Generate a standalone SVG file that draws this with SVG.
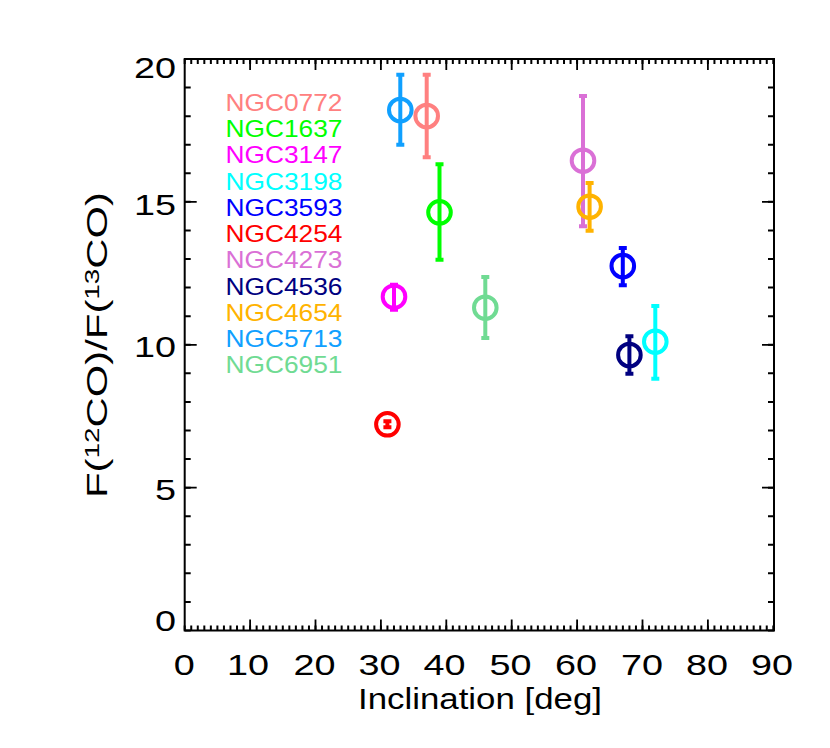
<svg xmlns="http://www.w3.org/2000/svg" width="830" height="748" viewBox="0 0 830 748">
<style>
.ax{fill:none;stroke:#000;stroke-width:2}
.tk{fill:none;stroke:#000;stroke-width:1.8}
.lbl{font-family:"Liberation Sans",Arial,Helvetica,sans-serif;font-size:30px;fill:#000}
.leg{font-family:"Liberation Sans",Arial,Helvetica,sans-serif;font-size:24.5px}
.pt circle{fill:none;stroke-width:4}
.pt path{fill:none;stroke-width:4}
</style>
<rect width="830" height="748" fill="#fff"/>
<g id="axes">
<rect class="ax" x="184.7" y="59" width="589.3" height="571.5"/>
<line x1="183.7" y1="628" x2="774" y2="628" stroke="#000" stroke-width="5" stroke-dasharray="2 4.54"/>
<line x1="183.7" y1="61.5" x2="774" y2="61.5" stroke="#000" stroke-width="5" stroke-dasharray="2 4.54"/>
<line x1="187.7" y1="631.5" x2="187.7" y2="58" stroke="#000" stroke-width="6" stroke-dasharray="2 26.575"/>
<line x1="771" y1="631.5" x2="771" y2="58" stroke="#000" stroke-width="6" stroke-dasharray="2 26.575"/>
<path class="tk" d="M250.1 630.5v-11M315.5 630.5v-11M380.9 630.5v-11M446.3 630.5v-11M511.7 630.5v-11M577.1 630.5v-11M642.5 630.5v-11M707.9 630.5v-11M250.1 59v11M315.5 59v11M380.9 59v11M446.3 59v11M511.7 59v11M577.1 59v11M642.5 59v11M707.9 59v11M184.7 487.6h12M184.7 344.8h12M184.7 201.9h12M774 487.6h-12M774 344.8h-12M774 201.9h-12"/>
</g>
<g id="tick-labels" class="lbl">
<text x="176" y="630.5" text-anchor="end" textLength="21" lengthAdjust="spacingAndGlyphs">0</text>
<text x="176" y="500" text-anchor="end" textLength="21" lengthAdjust="spacingAndGlyphs">5</text>
<text x="176" y="357" text-anchor="end" textLength="42" lengthAdjust="spacingAndGlyphs">10</text>
<text x="176" y="214.5" text-anchor="end" textLength="42" lengthAdjust="spacingAndGlyphs">15</text>
<text x="176" y="77.5" text-anchor="end" textLength="42" lengthAdjust="spacingAndGlyphs">20</text>
<text x="184.3" y="675" text-anchor="middle" textLength="21" lengthAdjust="spacingAndGlyphs">0</text>
<text x="248" y="675" text-anchor="middle" textLength="42" lengthAdjust="spacingAndGlyphs">10</text>
<text x="314.5" y="675" text-anchor="middle" textLength="42" lengthAdjust="spacingAndGlyphs">20</text>
<text x="379.5" y="675" text-anchor="middle" textLength="42" lengthAdjust="spacingAndGlyphs">30</text>
<text x="444.5" y="675" text-anchor="middle" textLength="42" lengthAdjust="spacingAndGlyphs">40</text>
<text x="510.5" y="675" text-anchor="middle" textLength="42" lengthAdjust="spacingAndGlyphs">50</text>
<text x="576" y="675" text-anchor="middle" textLength="42" lengthAdjust="spacingAndGlyphs">60</text>
<text x="642" y="675" text-anchor="middle" textLength="42" lengthAdjust="spacingAndGlyphs">70</text>
<text x="707" y="675" text-anchor="middle" textLength="42" lengthAdjust="spacingAndGlyphs">80</text>
<text x="772" y="675" text-anchor="middle" textLength="42" lengthAdjust="spacingAndGlyphs">90</text>
</g>
<g id="axis-titles" class="lbl">
<text x="480" y="708.5" text-anchor="middle" textLength="244" lengthAdjust="spacingAndGlyphs">Inclination [deg]</text>
<text transform="translate(107,345) rotate(-90)" text-anchor="middle" textLength="306" lengthAdjust="spacingAndGlyphs">F(<tspan font-size="20" dy="-8">12</tspan><tspan dy="8">CO)/F(</tspan><tspan font-size="20" dy="-8">13</tspan><tspan dy="8">CO)</tspan></text>
</g>
<g id="legend" class="leg">
<text x="225.5" y="110.7" fill="#FF8080" textLength="117" lengthAdjust="spacingAndGlyphs">NGC0772</text>
<text x="225.5" y="137" fill="#00FF00" textLength="117" lengthAdjust="spacingAndGlyphs">NGC1637</text>
<text x="225.5" y="163.2" fill="#FF00FF" textLength="117" lengthAdjust="spacingAndGlyphs">NGC3147</text>
<text x="225.5" y="189.5" fill="#00FFFF" textLength="117" lengthAdjust="spacingAndGlyphs">NGC3198</text>
<text x="225.5" y="215.7" fill="#0000FF" textLength="117" lengthAdjust="spacingAndGlyphs">NGC3593</text>
<text x="225.5" y="242" fill="#FF0000" textLength="117" lengthAdjust="spacingAndGlyphs">NGC4254</text>
<text x="225.5" y="268.3" fill="#DA70D6" textLength="117" lengthAdjust="spacingAndGlyphs">NGC4273</text>
<text x="225.5" y="294.5" fill="#000080" textLength="117" lengthAdjust="spacingAndGlyphs">NGC4536</text>
<text x="225.5" y="320.8" fill="#FFB300" textLength="117" lengthAdjust="spacingAndGlyphs">NGC4654</text>
<text x="225.5" y="347" fill="#10A0FF" textLength="117" lengthAdjust="spacingAndGlyphs">NGC5713</text>
<text x="225.5" y="373.3" fill="#70DB93" textLength="117" lengthAdjust="spacingAndGlyphs">NGC6951</text>
</g>
<g id="connectors"/>
<g id="NGC0772" class="pt" stroke="#FF8080"><path d="M426.7 72.7V159.3M422.7 74.7h8M422.7 157.3h8"/><circle cx="426.7" cy="116" r="11.3"/></g>
<g id="NGC1637" class="pt" stroke="#00FF00"><path d="M439.5 162.3V261.7M435.5 164.3h8M435.5 259.7h8"/><circle cx="439.5" cy="212.3" r="11.3"/></g>
<g id="NGC3147" class="pt" stroke="#FF00FF"><path d="M394 282.7V311.7M390 284.7h8M390 309.7h8"/><circle cx="394" cy="296.7" r="11.3"/></g>
<g id="NGC3198" class="pt" stroke="#00FFFF"><path d="M655.3 304V380.7M651.3 306h8M651.3 378.7h8"/><circle cx="655.3" cy="341.7" r="11.3"/></g>
<g id="NGC3593" class="pt" stroke="#0000FF"><path d="M622.8 246V287.3M618.8 248h8M618.8 285.3h8"/><circle cx="622.8" cy="266" r="11.3"/></g>
<g id="NGC4254" class="pt" stroke="#FF0000"><path d="M387.4 419.3V429.3M383.4 421.3h8M383.4 427.3h8"/><circle cx="387.4" cy="424.3" r="11.3"/></g>
<g id="NGC4273" class="pt" stroke="#DA70D6"><path d="M583 94V228.3M579 96h8M579 226.3h8"/><circle cx="583" cy="160.7" r="11.3"/></g>
<g id="NGC4536" class="pt" stroke="#000080"><path d="M629.4 334.3V375.7M625.4 336.3h8M625.4 373.7h8"/><circle cx="629.4" cy="355" r="11.3"/></g>
<g id="NGC4654" class="pt" stroke="#FFB300"><path d="M589.6 181V232.7M585.6 183h8M585.6 230.7h8"/><circle cx="589.6" cy="206.7" r="11.3"/></g>
<g id="NGC5713" class="pt" stroke="#10A0FF"><path d="M400.3 72.7V146.7M396.3 74.7h8M396.3 144.7h8"/><circle cx="400.3" cy="110" r="11.3"/></g>
<g id="NGC6951" class="pt" stroke="#70DB93"><path d="M485.3 275V340M481.3 277h8M481.3 338h8"/><circle cx="485.3" cy="307.7" r="11.3"/></g>
</svg>
